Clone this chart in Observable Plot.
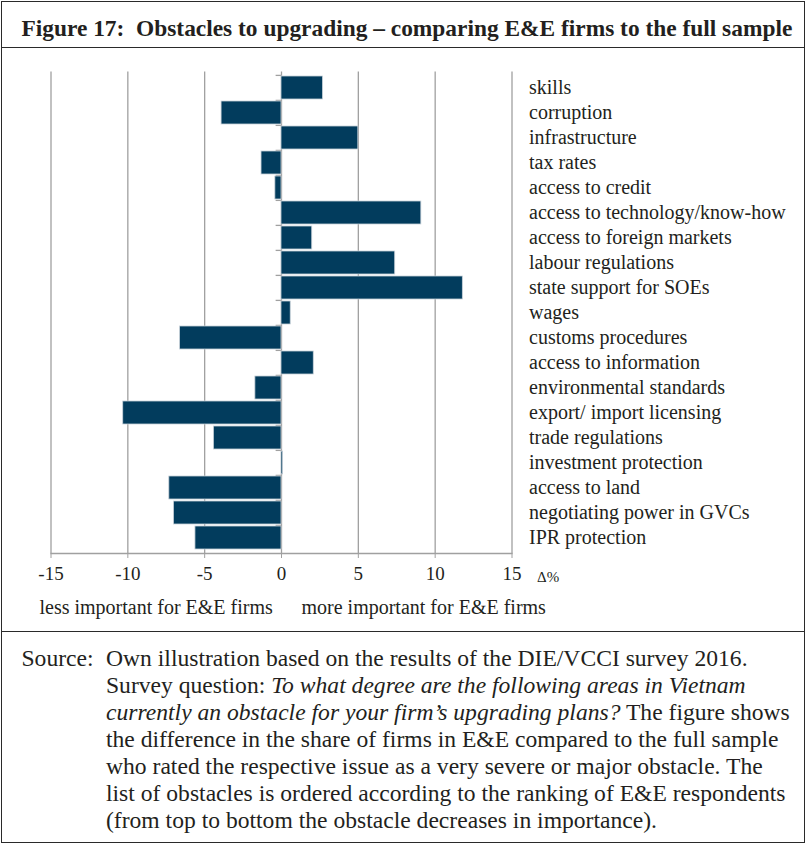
<!DOCTYPE html>
<html>
<head>
<meta charset="utf-8">
<script src="https://cdn.jsdelivr.net/npm/d3@7"></script>
<script src="https://cdn.jsdelivr.net/npm/@observablehq/plot@0.6"></script>
<style>
  html, body { margin: 0; padding: 0; background: white; }
  body { font-family: "Liberation Serif", "Times New Roman", serif; color: #231f20; }
  #box { position: absolute; left: 1px; top: 1px; width: 804px; box-sizing: border-box; border: 1.5px solid #2a2a2a; }
  #title { height: 46px; border-bottom: 1.5px solid #2a2a2a; font-weight: bold; font-size: 23.4px; line-height: 44px; padding-left: 19.5px; padding-top: 4px; box-sizing: border-box; white-space: pre; }
  #notes { position: relative; height: 41px; border-bottom: 1.5px solid #2a2a2a; font-size: 20px; }
  #notes span { position: absolute; top: 6px; white-space: nowrap; }
  #source { height: 210px; box-sizing: border-box; padding: 13px 0 0 19.5px; display: flex; font-size: 23.6px; line-height: 27px; white-space: nowrap; }
  #source .lab { width: 84.5px; flex: none; }
  svg { display: block; }
</style>
</head>
<body>
<div id="box">
  <div id="title">Figure 17:  Obstacles to upgrading – comparing E&amp;E firms to the full sample</div>
  <div id="chart"></div>
  <div id="notes"><span style="left:37.5px">less important for E&amp;E firms</span><span style="left:299.5px">more important for E&amp;E firms</span></div>
  <div id="source"><div class="lab">Source:</div><div class="txt">Own illustration based on the results of the DIE/VCCI survey 2016.<br>Survey question: <i>To what degree are the following areas in Vietnam</i><br><i>currently an obstacle for your firm’s upgrading plans?</i> The figure shows<br>the difference in the share of firms in E&amp;E compared to the full sample<br>who rated the respective issue as a very severe or major obstacle. The<br>list of obstacles is ordered according to the ranking of E&amp;E respondents<br>(from top to bottom the obstacle decreases in importance).</div></div>
</div>
<script>
const categories = [
  "skills", "corruption", "infrastructure", "tax rates", "access to credit",
  "access to technology/know-how", "access to foreign markets", "labour regulations",
  "state support for SOEs", "wages", "customs procedures", "access to information",
  "environmental standards", "export/ import licensing", "trade regulations",
  "investment protection", "access to land", "negotiating power in GVCs", "IPR protection"
];
const values = [2.7, -3.9, 5.0, -1.3, -0.4, 9.1, 2.0, 7.4, 11.8, 0.6, -6.6, 2.1, -1.7, -10.3, -4.4, 0.1, -7.3, -7.0, -5.6];
const xTicks = [-15, -10, -5, 0, 5, 10, 15];
const unitLabel = "Δ%";

const data = categories.map((c, i) => ({category: c, value: values[i]}));

const W = 801, H = 542, mT = 23.5, mB = 37, mL = 48.5, mR = 291.5;
const step = (H - mT - mB) / (categories.length + 0.1);

const chart = Plot.plot({
  width: W,
  height: H,
  marginTop: mT,
  marginBottom: mB,
  marginLeft: mL,
  marginRight: mR,
  style: {fontFamily: "Liberation Serif, Times New Roman, serif", fontSize: "19.5px", color: "#231f20", background: "white"},
  x: {domain: [-15, 15], label: null},
  y: {domain: categories, padding: 0.1, label: null},
  marks: [
    Plot.ruleX(xTicks, {stroke: "#a0a0a0", strokeWidth: 1.3}),
    Plot.ruleY(categories, {y: d => d, x1: -0.35, x2: 0, dy: -step / 2, stroke: "#a0a0a0", strokeWidth: 1.3}),
    Plot.barX(data, {x: "value", y: "category", fill: "#023c5d", stroke: "#c9d2da", strokeWidth: 0.8}),
    Plot.frame({anchor: "bottom", stroke: "#a0a0a0", strokeWidth: 1.3}),
    Plot.axisX({ticks: xTicks, tickFormat: d => String(d), tickSize: 5, tickPadding: 8, stroke: "#a0a0a0", fill: "#231f20", fontSize: 19, label: null}),
    Plot.axisY({anchor: "right", tickSize: 0, tickPadding: 17, fill: "#231f20", fontSize: 20, label: null}),
    Plot.text([unitLabel], {frameAnchor: "bottom-right", dx: 25, dy: 24, textAnchor: "start", lineAnchor: "middle", fontSize: 15, fill: "#231f20"})
  ]
});
document.getElementById("chart").appendChild(chart);
</script>
</body>
</html>
